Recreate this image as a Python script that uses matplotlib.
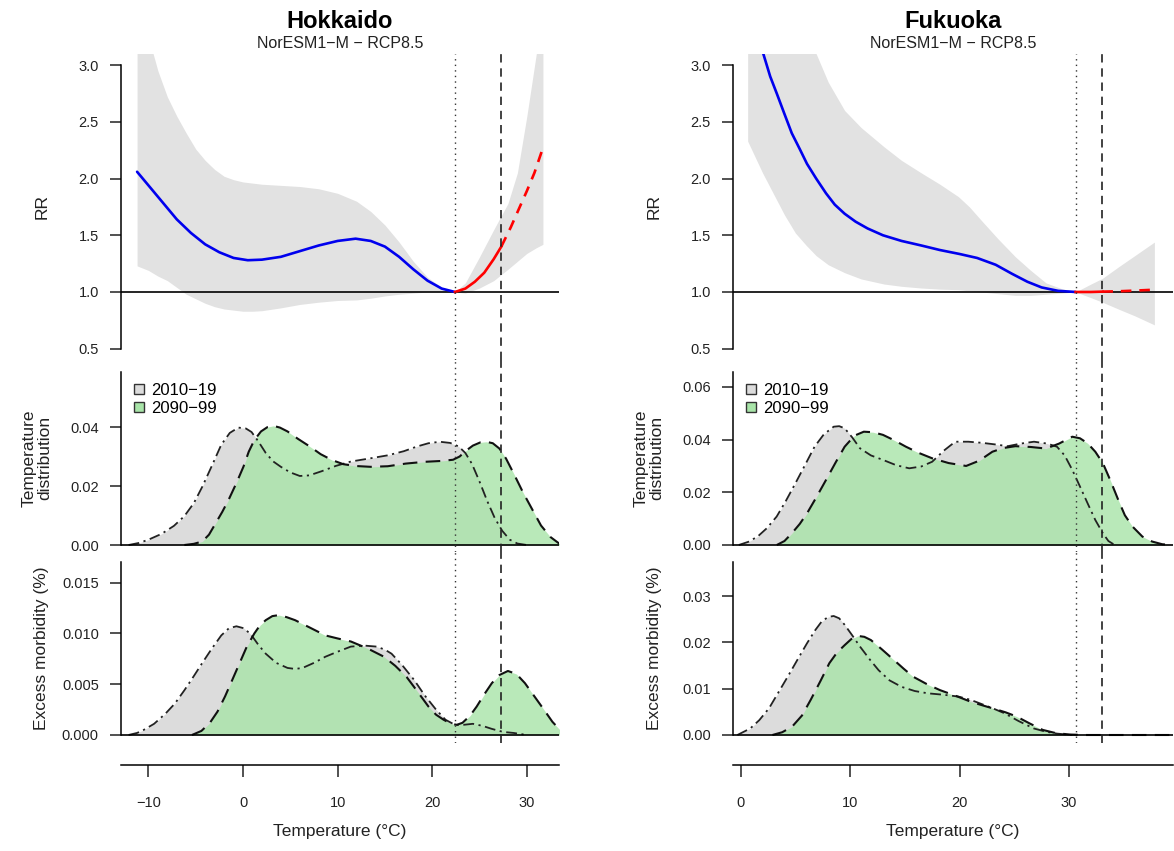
"""
Hokkaido / Fukuoka: exposure-response, temperature distribution and
excess morbidity under NorESM1-M - RCP8.5 (2010-19 vs 2090-99)
"""
import matplotlib
matplotlib.use("Agg")
import matplotlib.pyplot as plt
from matplotlib.lines import Line2D

plt.rcParams['font.family'] = ['Liberation Sans', 'DejaVu Sans']

# ---------------- data ----------------
# Hokkaido: RR curve (blue = cold side, red = heat side)
hok_cold_t = [-11.2, -10.0, -8.5, -7.0, -5.5, -4.0, -2.5, -1.0, 0.5, 2.0, 4.0, 6.0,
              8.0, 10.0, 11.9, 13.5, 15.0, 16.5, 18.0, 19.5, 21.0, 22.4]
hok_cold_rr = [2.06, 1.94, 1.79, 1.64, 1.52, 1.42, 1.35, 1.30, 1.28, 1.285, 1.31, 1.36,
               1.41, 1.45, 1.47, 1.45, 1.40, 1.31, 1.20, 1.10, 1.03, 1.00]
hok_heat_t = [22.4, 23.5, 24.5, 25.5, 26.5, 27.3, 28.3, 29.2, 30.0, 30.8, 31.7]
hok_heat_rr = [1.00, 1.03, 1.09, 1.17, 1.29, 1.40, 1.57, 1.74, 1.89, 2.05, 2.27]
hok_ci_t = [-11.2, -10, -9, -8, -7, -6, -5, -4, -3, -2, -1, 0, 1, 2, 4, 6, 8, 10, 12,
            13.5, 15, 16.5, 18, 19.5, 21, 22.4, 23.5, 25, 26.5, 28, 29, 30, 31, 31.7]
hok_ci_hi = [3.6, 3.25, 2.95, 2.72, 2.55, 2.40, 2.26, 2.16, 2.08, 2.02, 1.99, 1.97, 1.96,
             1.95, 1.94, 1.93, 1.91, 1.87, 1.80, 1.71, 1.59, 1.44, 1.27, 1.13, 1.04, 1.00,
             1.08, 1.31, 1.55, 1.78, 2.05, 2.55, 3.10, 3.50]
hok_ci_lo = [1.23, 1.19, 1.14, 1.10, 1.04, 0.98, 0.94, 0.90, 0.87, 0.85, 0.84, 0.83, 0.83,
             0.835, 0.86, 0.89, 0.91, 0.925, 0.93, 0.945, 0.965, 0.98, 0.99, 1.00, 1.00,
             1.00, 0.99, 1.035, 1.10, 1.20, 1.27, 1.34, 1.39, 1.42]
hok_mmt = 22.4
hok_thr = 27.3

# Hokkaido: temperature distributions
hok_d1_t = [-12.1, -11.0, -10.0, -8.6, -7.3, -6.2, -5.2, -4.3, -3.3, -2.3, -1.4, -0.5,
            0.3, 0.9, 1.6, 2.4, 3.2, 4.0, 5.0, 6.0, 7.0, 8.3, 9.8, 11.4, 13.3, 15.3,
            17.0, 18.4, 19.6, 20.8, 21.9, 22.8, 23.5, 24.2, 25.0, 25.8, 26.6, 27.4,
            28.2, 29.0, 30.0]
hok_d1 = [0.0, 0.0007, 0.0018, 0.0038, 0.0065, 0.0098, 0.0142, 0.0198, 0.0268, 0.0340,
          0.0380, 0.0398, 0.0395, 0.0383, 0.0352, 0.0312, 0.0283, 0.0265, 0.0246, 0.0234,
          0.0236, 0.0250, 0.0268, 0.0283, 0.0293, 0.0304, 0.0318, 0.0334, 0.0345, 0.0350,
          0.0346, 0.0334, 0.0312, 0.0275, 0.0215, 0.0150, 0.0092, 0.0048, 0.0018, 0.0005,
          0.0]
hok_d2_t = [-6.2, -5.2, -4.3, -3.6, -3.0, -2.2, -1.5, -0.7, 0.05, 0.6, 1.2, 1.9, 2.6,
            3.2, 3.9, 4.7, 5.8, 7.1, 8.2, 9.4, 10.6, 11.8, 13.5, 15.3, 17.2, 19.2, 21.0,
            22.2, 22.9, 23.5, 24.3, 25.1, 25.7, 26.4, 27.1, 27.8, 28.6, 29.6, 30.6, 31.5,
            32.5, 33.5]
hok_d2 = [0.0, 0.0004, 0.0012, 0.0035, 0.0068, 0.0112, 0.0155, 0.0210, 0.0266, 0.0316,
          0.0356, 0.0385, 0.0400, 0.0404, 0.0398, 0.0385, 0.0360, 0.0333, 0.0308, 0.0288,
          0.0274, 0.0268, 0.0265, 0.0267, 0.0276, 0.0282, 0.0285, 0.0289, 0.0300, 0.0318,
          0.0337, 0.0348, 0.0350, 0.0345, 0.0327, 0.0293, 0.0243, 0.0178, 0.0119, 0.0066,
          0.0027, 0.0003]

# Hokkaido: excess morbidity (%)
hok_e1_t = [-12.1, -11.2, -10.5, -9.4, -8.2, -7.2, -6.2, -5.2, -4.3, -3.3, -2.3, -1.5,
            -0.7, 0.1, 0.83, 1.6, 2.4, 3.5, 4.7, 5.5, 6.3, 7.5, 8.7, 10.0, 11.4, 12.8,
            14.1, 15.0, 15.7, 16.8, 18.1, 19.2, 20.4, 21.4, 22.4, 23.3, 24.3, 25.3, 26.3,
            27.5, 28.6, 30.0]
hok_e1 = [0.0, 0.0002, 0.0005, 0.0011, 0.0021, 0.0031, 0.0044, 0.0058, 0.0071, 0.0085,
          0.0098, 0.0105, 0.0107, 0.0105, 0.0099, 0.0089, 0.0080, 0.0071, 0.0066, 0.0065,
          0.0066, 0.0071, 0.0077, 0.0082, 0.0087, 0.0088, 0.0087, 0.0084, 0.0080, 0.0069,
          0.0054, 0.0039, 0.0025, 0.0015, 0.0010, 0.0010, 0.0011, 0.0009, 0.0006, 0.0003,
          0.0002, 0.0]
hok_e2_t = [-5.4, -4.4, -3.5, -2.7, -1.9, -1.1, -0.35, 0.4, 1.2, 1.8, 2.4, 3.1, 3.8, 4.6,
            5.5, 7.0, 8.7, 10.0, 11.4, 13.2, 14.9, 16.1, 17.3, 18.5, 19.6, 20.4, 21.2,
            22.0, 22.6, 23.2, 24.0, 24.7, 25.5, 26.3, 27.1, 28.0, 28.9, 29.8, 30.8, 31.8,
            32.7, 33.5]
hok_e2 = [0.0, 0.0004, 0.0012, 0.0023, 0.0038, 0.0055, 0.0071, 0.0087, 0.0100, 0.0108,
          0.0113, 0.0117, 0.0118, 0.0116, 0.0113, 0.0106, 0.0098, 0.0095, 0.0092, 0.0085,
          0.0077, 0.0068, 0.0057, 0.0042, 0.0028, 0.0020, 0.0015, 0.0011, 0.0010, 0.0012,
          0.0019, 0.0028, 0.0040, 0.0051, 0.0059, 0.0063, 0.0060, 0.0051, 0.0038, 0.0025,
          0.0013, 0.0005]

# Fukuoka: RR curve
fuk_cold_t = [0.64, 1.5, 2.07, 2.7, 3.3, 4.0, 4.67, 5.4, 6.06, 6.9, 7.8, 8.6, 9.5, 10.5,
              11.6, 13.0, 14.7, 16.5, 18.2, 20.0, 21.6, 23.3, 24.8, 26.2, 27.5, 29.0, 30.6]
fuk_cold_rr = [3.9, 3.3, 3.10, 2.90, 2.75, 2.57, 2.40, 2.26, 2.13, 2.00, 1.87, 1.77, 1.69,
               1.62, 1.56, 1.50, 1.45, 1.41, 1.37, 1.335, 1.30, 1.24, 1.16, 1.09, 1.04,
               1.01, 1.00]
fuk_heat_t = [30.6, 32.0, 33.05, 34.5, 36.0, 37.8]
fuk_heat_rr = [1.0, 1.0, 1.003, 1.006, 1.012, 1.02]
fuk_ci_t = [0.64, 2, 4, 5, 6, 6.9, 8, 9.5, 11, 13.1, 14.7, 16.5, 18.2, 19.9, 20.9, 22,
            23.5, 25.1, 26.5, 27.9, 29.3, 30.6, 32, 33.05, 34.5, 36, 37.8]
fuk_ci_hi = [5.0, 4.6, 3.9, 3.6, 3.3, 3.1, 2.85, 2.60, 2.45, 2.28, 2.16, 2.05, 1.95, 1.84,
             1.75, 1.63, 1.47, 1.31, 1.19, 1.08, 1.03, 1.00, 1.07, 1.12, 1.22, 1.32, 1.44]
fuk_ci_lo = [2.33, 2.05, 1.68, 1.52, 1.41, 1.32, 1.24, 1.17, 1.115, 1.07, 1.05, 1.035,
             1.025, 1.02, 1.01, 1.00, 0.985, 0.97, 0.97, 0.98, 0.99, 1.00, 0.95, 0.91,
             0.85, 0.79, 0.71]
fuk_mmt = 30.6
fuk_thr = 33.05

# Fukuoka: temperature distributions
fuk_d1_t = [-0.17, 0.7, 1.55, 2.4, 3.29, 4.1, 5.0, 5.9, 6.75, 7.6, 8.5, 9.0, 9.5, 10.2,
            10.9, 11.9, 13.0, 14.2, 15.4, 16.5, 17.5, 18.5, 19.6, 20.8, 22.0, 23.2, 24.4,
            25.6, 26.8, 28.0, 28.9, 29.6, 30.3, 31.0, 31.7, 32.4, 33.1, 33.6, 34.1]
fuk_d1 = [0.0, 0.0012, 0.0032, 0.0064, 0.0108, 0.0165, 0.0234, 0.0305, 0.0373, 0.0420,
          0.0449, 0.0451, 0.0443, 0.0408, 0.0367, 0.0340, 0.0323, 0.0303, 0.0291, 0.0298,
          0.0316, 0.0356, 0.0392, 0.0392, 0.0388, 0.0382, 0.0375, 0.0385, 0.0392, 0.0385,
          0.0373, 0.0340, 0.0285, 0.0222, 0.0158, 0.0095, 0.0044, 0.0015, 0.0002]
fuk_d2_t = [3.3, 4.0, 4.67, 5.4, 6.06, 6.9, 7.8, 8.7, 9.5, 10.4, 11.25, 12.1, 13.0, 14.0,
            15.1, 16.3, 17.5, 19.0, 20.6, 21.8, 23.0, 24.0, 25.1, 26.5, 27.9, 29.1, 30.3,
            31.0, 31.7, 32.4, 33.1, 33.8, 34.5, 35.1, 35.8, 36.7, 37.6, 38.5, 39.3]
fuk_d2 = [0.0, 0.0015, 0.0044, 0.0080, 0.0120, 0.0180, 0.0247, 0.0315, 0.0373, 0.0415,
          0.0430, 0.0428, 0.0418, 0.0398, 0.0373, 0.0349, 0.0329, 0.0311, 0.0300, 0.0320,
          0.0354, 0.0368, 0.0375, 0.0372, 0.0366, 0.0385, 0.0411, 0.0405, 0.0386, 0.0354,
          0.0310, 0.0243, 0.0171, 0.0113, 0.0070, 0.0032, 0.0013, 0.0003, 0.0]

# Fukuoka: excess morbidity (%)
fuk_e1_t = [-0.3, 0.87, 1.7, 2.6, 3.4, 4.3, 5.2, 6.06, 6.8, 7.4, 8.0, 8.5, 9.0, 9.5, 10.2,
            10.9, 11.8, 12.6, 13.6, 14.7, 15.9, 17.1, 18.5, 19.9, 21.0, 22.0, 23.1, 24.1,
            25.4, 26.8, 27.9, 28.9, 30.3]
fuk_e1 = [0.0, 0.0014, 0.0032, 0.0058, 0.0090, 0.0126, 0.0163, 0.0198, 0.0226, 0.0245,
          0.0255, 0.0257, 0.0252, 0.0238, 0.0215, 0.0191, 0.0163, 0.0140, 0.0118, 0.0104,
          0.0095, 0.0090, 0.0087, 0.0083, 0.0076, 0.0067, 0.0057, 0.0047, 0.0030, 0.0014,
          0.0007, 0.0003, 0.0]
fuk_e2_t = [2.9, 3.8, 4.7, 5.6, 6.4, 7.3, 8.1, 8.8, 9.5, 10.1, 10.7, 11.3, 11.9, 12.9,
            14.0, 14.9, 15.75, 17.0, 18.2, 19.6, 21.0, 22.1, 23.1, 24.2, 25.2, 26.4, 27.6,
            28.8, 30.1, 31.5, 39.3]
fuk_e2 = [0.0, 0.0006, 0.0018, 0.0042, 0.0076, 0.0117, 0.0155, 0.0178, 0.0194, 0.0207,
          0.0214, 0.0212, 0.0205, 0.0185, 0.0162, 0.0143, 0.0126, 0.0110, 0.0097, 0.0085,
          0.0072, 0.0064, 0.0057, 0.0049, 0.0040, 0.0025, 0.0011, 0.0004, 0.0001, 0.0,
          0.0]

period_labels = ['2010\u221219', '2090\u221299']
subtitle = 'NorESM1\u2212M \u2212 RCP8.5'

# ---------------- styling ----------------
BAND = '#e2e2e2'
GREY_FILL = '#dcdcdc'
GREEN_FILL = '#a8e4a8'
BLUE = '#0000ee'
RED = '#ff0000'
W, H = 1174, 851


def px_axes(fig, x0, y_top, x1, y_bot):
    return fig.add_axes([x0 / W, 1 - y_bot / H, (x1 - x0) / W, (y_bot - y_top) / H])


def style_left(ax, lo, hi, ticks, fmt):
    for s in ('top', 'right', 'bottom'):
        ax.spines[s].set_visible(False)
    ax.spines['left'].set_bounds(lo, hi)
    ax.spines['left'].set_linewidth(1.1)
    ax.set_yticks(ticks)
    ax.set_yticklabels([fmt % v for v in ticks])
    ax.tick_params(axis='y', length=8, width=1.1, pad=8, labelsize=10.5, colors='#222222')
    ax.tick_params(axis='x', bottom=False, labelbottom=False)


def draw_city(fig, x0, x1, xlim, xticks, name, rr, dist, exc, mmt, thr,
              dist_ylim, dist_top, dist_ticks, dist_fmt,
              exc_ylim, exc_top, exc_ticks, exc_fmt, show_legend=True):
    ax1 = px_axes(fig, x0, 53.7, x1, 359.8)
    ax2 = px_axes(fig, x0, 359.8, x1, 552.0)
    ax3 = px_axes(fig, x0, 552.0, x1, 742.5)

    # --- RR panel ---
    cold_t, cold_rr, heat_t, heat_rr, ci_t, ci_lo, ci_hi = rr
    ax1.fill_between(ci_t, ci_lo, ci_hi, color=BAND, lw=0)
    ax1.axhline(1.0, color='black', lw=1.2)
    ax1.plot(cold_t, cold_rr, color=BLUE, lw=1.9, solid_capstyle='round')
    h_t = [t for t in heat_t if t <= thr]
    h_r = [r for t, r in zip(heat_t, heat_rr) if t <= thr]
    d_t = [t for t in heat_t if t >= thr]
    d_r = [r for t, r in zip(heat_t, heat_rr) if t >= thr]
    ax1.plot(h_t, h_r, color=RED, lw=1.9)
    ax1.plot([h_t[-1]] + d_t, [h_r[-1]] + d_r, color=RED, lw=1.9, ls=(0, (4, 3)))
    ax1.set_ylim(0.402, 3.101)
    style_left(ax1, 0.5, 3.0, [0.5, 1.0, 1.5, 2.0, 2.5, 3.0], '%.1f')

    # --- temperature distribution ---
    d1_t, d1, d2_t, d2 = dist
    ax2.fill_between(d1_t, 0, d1, color=GREY_FILL, lw=0)
    ax2.plot(d1_t, d1, color='#222222', lw=1.3, ls=(0, (6, 2.5, 1.2, 2.5)))
    ax2.fill_between(d2_t, 0, d2, color=GREEN_FILL, alpha=0.8, lw=0)
    ax2.plot(d2_t, d2, color='#111111', lw=1.5, ls=(0, (7, 4)))
    ax2.axhline(0, color='black', lw=1.2)
    ax2.set_ylim(*dist_ylim)
    style_left(ax2, 0, dist_top, dist_ticks, dist_fmt)
    if show_legend:
        handles = [Line2D([], [], ls='none', marker='s', markersize=6.5,
                          markerfacecolor=GREY_FILL, markeredgecolor='#333333',
                          markeredgewidth=1.0),
                   Line2D([], [], ls='none', marker='s', markersize=6.5,
                          markerfacecolor=GREEN_FILL, markeredgecolor='#333333',
                          markeredgewidth=1.0)]
        ax2.legend(handles, period_labels, loc='upper left', bbox_to_anchor=(0.0, 0.94),
                   frameon=False, fontsize=12, handlelength=0.8, handletextpad=0.3,
                   labelspacing=0.2, borderaxespad=0.3)

    # --- excess morbidity ---
    e1_t, e1, e2_t, e2 = exc
    ax3.fill_between(e1_t, 0, e1, color=GREY_FILL, lw=0)
    ax3.plot(e1_t, e1, color='#222222', lw=1.3, ls=(0, (6, 2.5, 1.2, 2.5)))
    ax3.fill_between(e2_t, 0, e2, color=GREEN_FILL, alpha=0.8, lw=0)
    ax3.plot(e2_t, e2, color='#111111', lw=1.5, ls=(0, (7, 4)))
    ax3.axhline(0, color='black', lw=1.2)
    ax3.set_ylim(*exc_ylim)
    style_left(ax3, 0, exc_top, exc_ticks, exc_fmt)

    # bottom temperature axis, detached below the panels
    ax3.spines['bottom'].set_visible(True)
    ax3.spines['bottom'].set_position(('outward', 16.2))
    ax3.spines['bottom'].set_linewidth(1.1)
    ax3.set_xticks(xticks)
    ax3.tick_params(axis='x', bottom=True, labelbottom=True, length=8.5, width=1.1,
                    pad=14, labelsize=10.5, colors='#222222')

    for ax in (ax1, ax2, ax3):
        ax.set_xlim(*xlim)
        ax.axvline(mmt, color='#333333', lw=1.0, ls=(0, (1, 3)))
        ax.axvline(thr, color='#222222', lw=1.2, ls=(0, (5, 3.5)))
        ax.patch.set_alpha(0)

    xc = (x0 + x1) / 2 / W
    fig.text(xc, 1 - 21.7 / H, name, ha='center', va='center', fontsize=17,
             fontweight='bold')
    fig.text(xc, 1 - 43.3 / H, subtitle, ha='center', va='center', fontsize=11.5,
             color='#222222')
    fig.text(xc, 1 - 831.7 / H, 'Temperature (\u00b0C)', ha='center', va='center',
             fontsize=12.5, color='#222222')

    lx = (x0 - 79) / W
    fig.text(lx, 1 - 206.8 / H, 'RR', rotation=90, ha='center', va='center',
             fontsize=12.5, color='#222222')
    fig.text((x0 - 84) / W, 1 - 458.4 / H, 'Temperature\ndistribution', rotation=90,
             ha='center', va='center', fontsize=12.5, color='#222222', linespacing=1.05)
    fig.text(lx, 1 - 648.5 / H, 'Excess morbidity (%)', rotation=90, ha='center',
             va='center', fontsize=12.5, color='#222222')


def create_figure():
    fig = plt.figure(figsize=(W / 100, H / 100), dpi=100)
    fig.patch.set_facecolor('white')

    draw_city(fig, 121, 559, (-12.9, 33.4), [-10, 0, 10, 20, 30], 'Hokkaido',
              (hok_cold_t, hok_cold_rr, hok_heat_t, hok_heat_rr, hok_ci_t, hok_ci_lo, hok_ci_hi),
              (hok_d1_t, hok_d1, hok_d2_t, hok_d2),
              (hok_e1_t, hok_e1, hok_e2_t, hok_e2),
              hok_mmt, hok_thr,
              (-0.00237, 0.06278), 0.0586, [0.0, 0.02, 0.04], '%.2f',
              (-0.00074, 0.01801), 0.01706, [0.0, 0.005, 0.010, 0.015], '%.3f')

    draw_city(fig, 733, 1173, (-0.7, 39.5), [0, 10, 20, 30], 'Fukuoka',
              (fuk_cold_t, fuk_cold_rr, fuk_heat_t, fuk_heat_rr, fuk_ci_t, fuk_ci_lo, fuk_ci_hi),
              (fuk_d1_t, fuk_d1, fuk_d2_t, fuk_d2),
              (fuk_e1_t, fuk_e1, fuk_e2_t, fuk_e2),
              fuk_mmt, fuk_thr,
              (-0.00266, 0.07029), 0.0658, [0.0, 0.02, 0.04, 0.06], '%.2f',
              (-0.00162, 0.03952), 0.0374, [0.0, 0.01, 0.02, 0.03], '%.2f')

    fig.savefig('out.png', dpi=100, facecolor='white')
    plt.close(fig)


if __name__ == "__main__":
    create_figure()
